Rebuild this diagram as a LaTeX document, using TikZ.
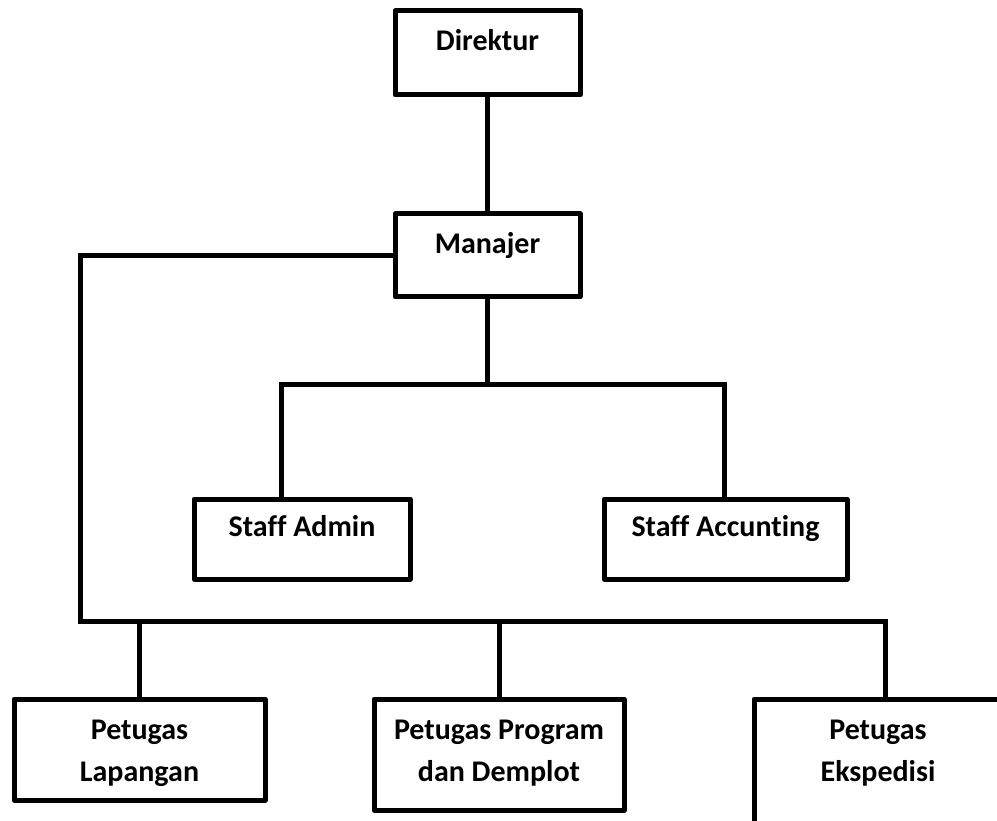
\documentclass[tikz,border=0pt]{standalone}
\usepackage{fontspec}
\setmainfont{Carlito}[Ligatures=NoCommon]

\begin{document}
\begin{tikzpicture}[x=1pt, y=-1pt,
    box/.style={draw, line width=5pt, line join=round, outer sep=0pt, inner ysep=0pt,
      align=center, anchor=north west, text height=40pt,
      font=\fontsize{30}{42}\selectfont\bfseries},
    twoline/.style={text height=82pt},
    link/.style={line width=5pt}]
  \useasboundingbox (0,0) rectangle (997,821);
  \clip (0,0) rectangle (997,821);

  % Pimpinan
  \node[box, minimum width=185pt, text depth=44pt] (dir) at (395,11) {Direktur};
  \node[box, minimum width=185pt, text depth=43pt] (man) at (395,214) {Manajer};

  % Staff
  \node[box, minimum width=216pt, text height=37pt, text depth=43pt] (adm) at (194,499) {Staff Admin};
  \node[box, minimum width=243pt, text height=37pt, text depth=43pt] (acc) at (604,499) {Staff Accunting};

  % Petugas
  \node[box, twoline, minimum width=251pt, text depth=19pt] (lap) at (14,699) {Petugas\\Lapangan};
  \node[box, twoline, minimum width=250pt, text depth=29pt] (prg) at (374,699) {Petugas Program\\dan Demplot};
  \node[box, twoline, minimum width=248pt, text depth=59pt] (eks) at (754,699) {Petugas\\Ekspedisi};

  % Garis
  \coordinate (stf-l) at (281,384);
  \coordinate (stf-r) at (724,384);
  \coordinate (bus-l) at (80,621);
  \coordinate (bus-r) at (885,621);

  \draw[link] (dir.south) -- (man.north);
  \draw[link] (man.south) -- (man.south |- stf-l);
  \draw[link] (stf-l |- adm.north) -- (stf-l) -- (stf-r) -- (stf-r |- acc.north);
  \draw[link] (man.west) -| (bus-l) -- (bus-r) -- (bus-r |- eks.north);
  \draw[link] (lap.north) -- (lap.north |- bus-l);
  \draw[link] (prg.north) -- (prg.north |- bus-l);
\end{tikzpicture}
\end{document}
